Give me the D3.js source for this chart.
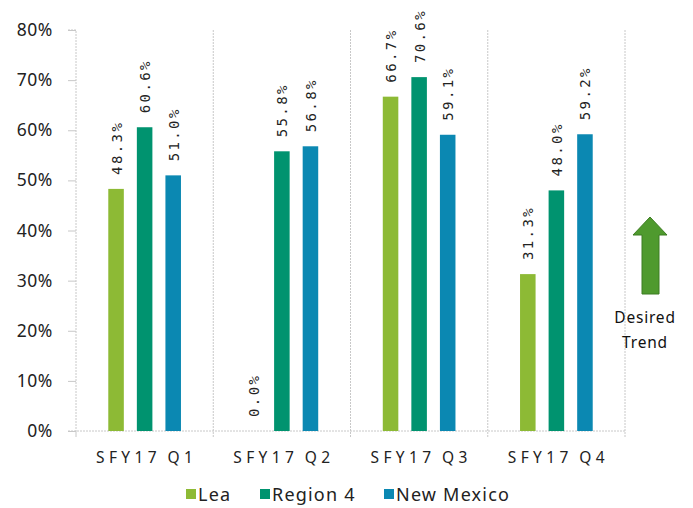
<!DOCTYPE html>
<html><head><meta charset="utf-8">
<script src="https://cdn.jsdelivr.net/npm/d3@7"></script>
<style>body{margin:0;background:#fff}svg{display:block}</style>
</head><body>
<svg id="c" width="693" height="508"></svg>
<script>
const categories = ["SFY17 Q1","SFY17 Q2","SFY17 Q3","SFY17 Q4"];
const seriesNames = ["Lea","Region 4","New Mexico"];
const lea = [48.3, 0.0, 66.7, 31.3];
const region4 = [60.6, 55.8, 70.6, 48.0];
const newMexico = [51.0, 56.8, 59.1, 59.2];
const yTicks = [0,10,20,30,40,50,60,70,80];
const colors = ["#8DBA35","#00936F","#0B88B2"];
const series = [lea, region4, newMexico];

(function(){
const svg = d3.select("#c");
const pL = 76, pR = 625, pT = 30, pB = 431;
const x = d3.scaleBand().domain(categories).range([pL, pR]).paddingInner(0).paddingOuter(0);
const xs = d3.scaleBand().domain(seriesNames).range([0, x.bandwidth()]).paddingInner(0.456).paddingOuter(1.13);
const y = d3.scaleLinear().domain([0,80]).range([pB, pT]);
const font = "'Noto Sans', 'Liberation Sans', sans-serif";

// Vertical separators
const seps = categories.map(c => x(c)).concat([pR]);
svg.append("g").selectAll("line").data(seps.slice(1)).join("line")
  .attr("x1", d=>d).attr("x2", d=>d).attr("y1", pT).attr("y2", pB+6)
  .attr("stroke","#c8c8c8").attr("stroke-dasharray","2,1");

// Y axis
const ya = svg.append("g").attr("transform",`translate(${pL},0)`)
  .call(d3.axisLeft(y).tickValues(yTicks).tickFormat(d=>d+"%").tickSize(8).tickPadding(15));
ya.select(".domain").attr("stroke","#c8c8c8").attr("stroke-dasharray","2,1").attr("d",`M-8,${pT}H0V${pB}`);
ya.selectAll(".tick line").attr("stroke","#c8c8c8");
ya.selectAll("text").attr("font-family",font).attr("font-size",17.5).attr("letter-spacing","0.6px").attr("fill","#222");

// X axis line
svg.append("line").attr("x1",pL-8).attr("x2",pR).attr("y1",pB).attr("y2",pB)
  .attr("stroke","#c8c8c8").attr("stroke-dasharray","2,1");
svg.append("line").attr("x1",pL).attr("x2",pL).attr("y1",pB).attr("y2",pB+6)
  .attr("stroke","#c8c8c8");

// X labels
svg.append("g").selectAll("text").data(categories).join("text")
  .attr("x", d=>x(d)+x.bandwidth()/2+2).attr("y", 463)
  .attr("text-anchor","middle").attr("font-family",font).attr("font-size",15.5)
  .attr("letter-spacing","4.4px").attr("word-spacing","-2px").attr("fill","#222").text(d=>d);

// Bars
const bars = [];
series.forEach((vals, si) => vals.forEach((v, ci) => bars.push({s: seriesNames[si], si, c: categories[ci], v})));
svg.append("g").selectAll("rect").data(bars).join("rect")
  .attr("x", d=>x(d.c)+xs(d.s)).attr("width", xs.bandwidth())
  .attr("y", d=>y(d.v)).attr("height", d=>pB - y(d.v))
  .attr("fill", d=>colors[d.si]);

// Data labels
svg.append("g").selectAll("text").data(bars).join("text")
  .attr("transform", d=>`translate(${x(d.c)+xs(d.s)+xs.bandwidth()/2+5.5},${y(d.v)-14}) rotate(-90)`)
  .attr("font-family","'DejaVu Sans Mono', monospace").attr("font-size",14).attr("letter-spacing","2.4px")
  .attr("fill","#222").text(d=>d.v.toFixed(1)+"%");

// Legend
const lg = svg.append("g");
const lx = [186, 260, 384];
seriesNames.forEach((n,i)=>{
  lg.append("rect").attr("x",lx[i]).attr("y",489).attr("width",10).attr("height",10).attr("fill",colors[i]);
  lg.append("text").attr("x",lx[i]+12).attr("y",501).attr("font-family",font).attr("font-size",18)
    .attr("letter-spacing","1.2px").attr("fill","#222").text(n);
});

// Desired trend arrow
svg.append("path").attr("d","M633,235 L650,217 L667,235 L659,235 L659,294 L642,294 L642,235 Z")
  .attr("fill","#4F9A2E").attr("stroke","#3d7d22").attr("stroke-width",1);
svg.append("text").attr("x",645).attr("y",323).attr("text-anchor","middle").attr("font-family",font)
  .attr("font-size",15.5).attr("letter-spacing","0.8px").attr("fill","#111").text("Desired");
svg.append("text").attr("x",645).attr("y",348).attr("text-anchor","middle").attr("font-family",font)
  .attr("font-size",15.5).attr("letter-spacing","0.8px").attr("fill","#111").text("Trend");
})();
</script>
</body></html>
